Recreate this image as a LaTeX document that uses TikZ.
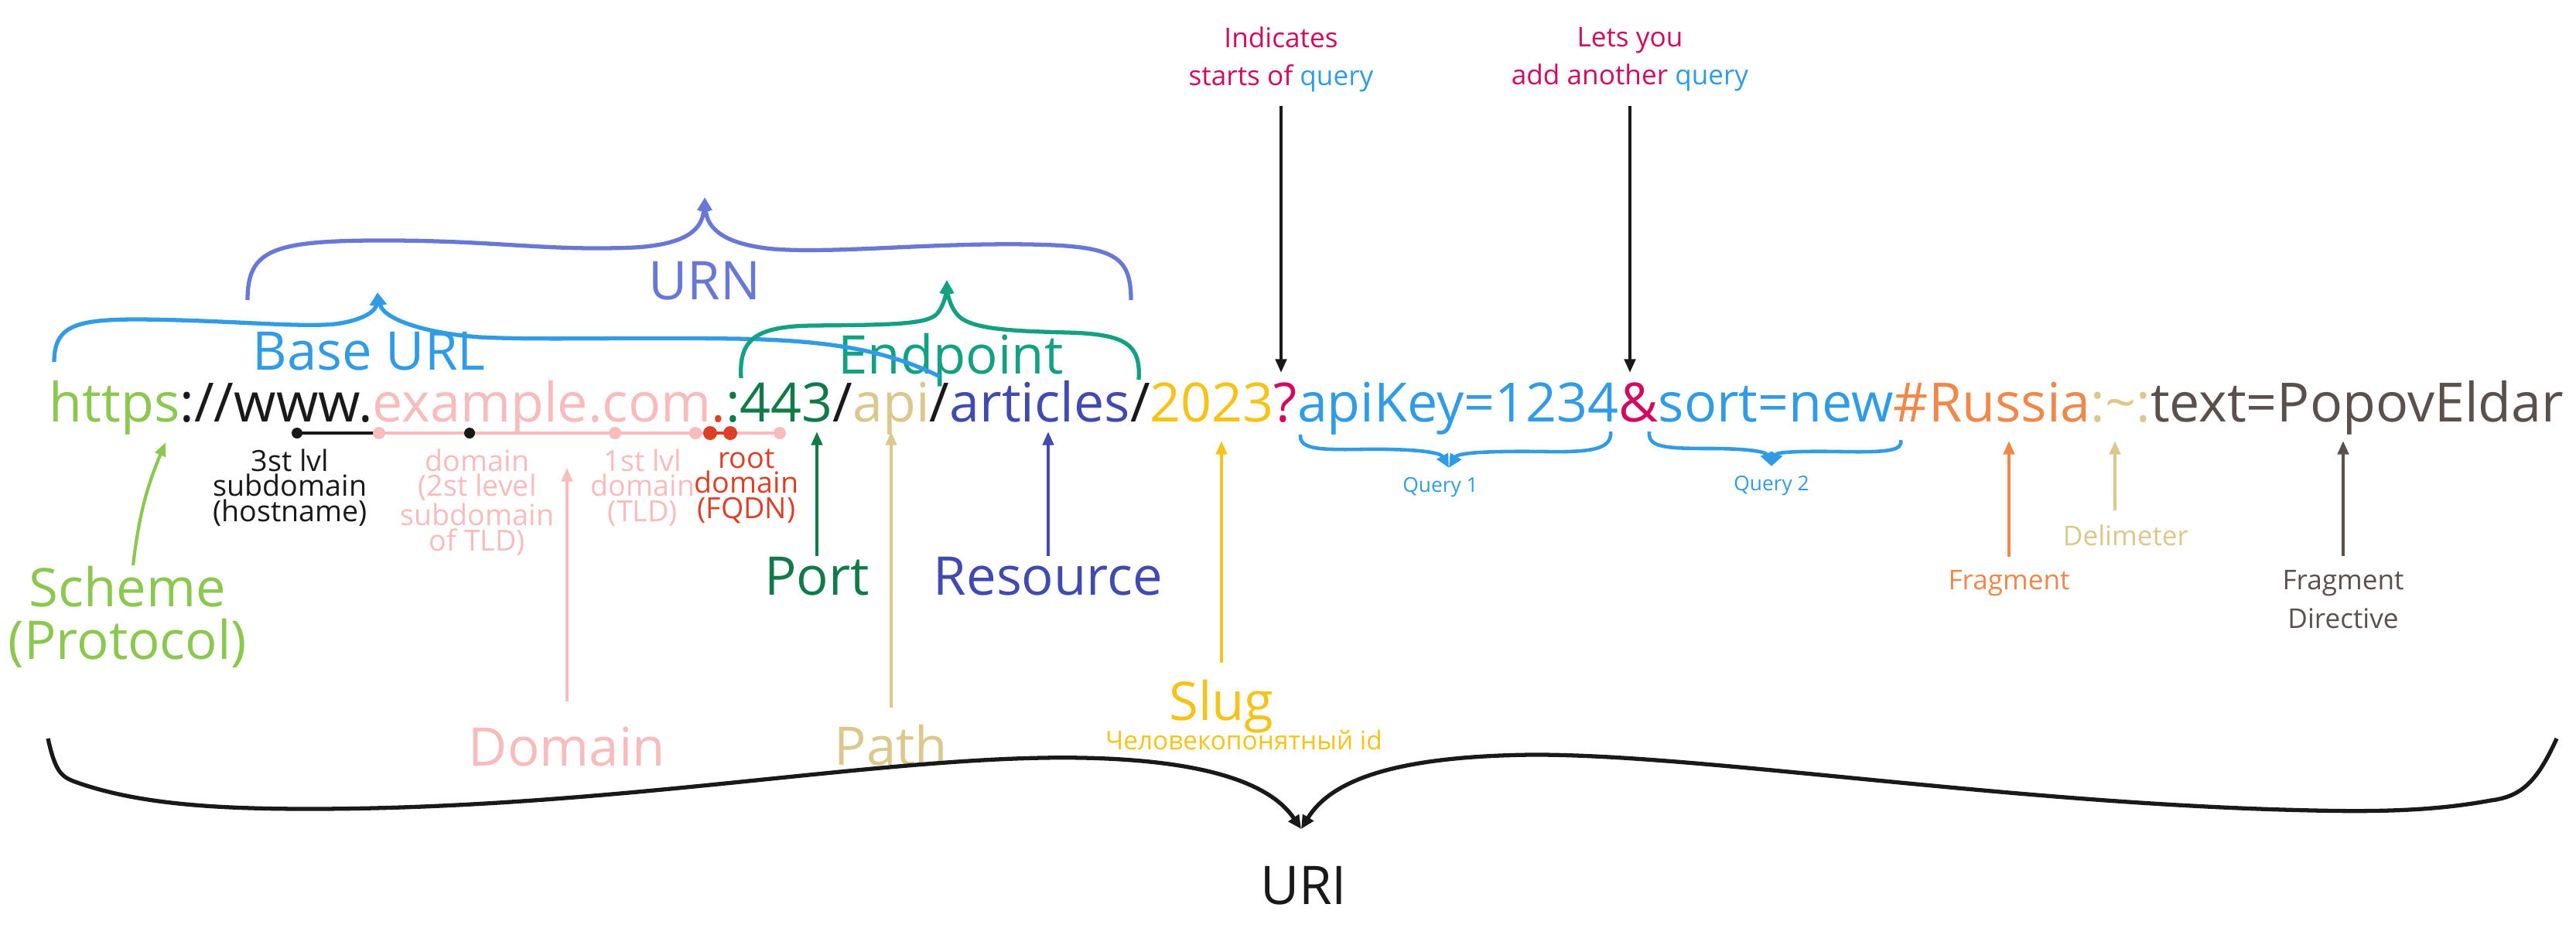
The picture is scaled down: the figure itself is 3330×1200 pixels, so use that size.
\documentclass[tikz,border=0pt]{standalone}
\usepackage{fontspec}
\setmainfont{Open Sans}
\usetikzlibrary{arrows.meta}

\definecolor{ink}{RGB}{25,25,25}
\definecolor{schemec}{RGB}{140,200,80}
\definecolor{domainc}{RGB}{248,188,188}
\definecolor{rootc}{RGB}{220,65,40}
\definecolor{portc}{RGB}{18,122,72}
\definecolor{pathc}{RGB}{220,200,140}
\definecolor{resc}{RGB}{65,75,175}
\definecolor{slugc}{RGB}{245,195,25}
\definecolor{markc}{RGB}{210,10,95}
\definecolor{queryc}{RGB}{50,155,230}
\definecolor{fragc}{RGB}{240,135,75}
\definecolor{dirc}{RGB}{90,80,78}
\definecolor{urnc}{RGB}{105,120,215}
\definecolor{endc}{RGB}{20,160,130}

\begin{document}
\begin{tikzpicture}[x=0.01cm,y=-0.01cm,
    seg/.style={anchor=base west,inner sep=0pt,outer sep=0pt,font=\fontsize{19.9}{22}\selectfont},
    big/.style={inner sep=0pt,align=center,font=\fontsize{19.6}{19.5}\selectfont},
    small/.style={inner sep=0pt,align=center,font=\fontsize{10}{14}\selectfont},
    tiny/.style={inner sep=0pt,align=center,font=\fontsize{10.7}{9.2}\selectfont},
    arr/.style={line width=1.2pt,-{Triangle[length=5pt,width=4pt]}},
    brace/.style={line width=1.5pt,-{Triangle[length=5pt,width=4.5pt]}}]
        \fill[white] (0,0) rectangle (3330,1200);
        \useasboundingbox (0,0) rectangle (3330,1200);

        % the address itself
        \node[seg,schemec] (scheme) at (64,545) {https};
        \node[seg,ink] (www) at (scheme.base east) {://www.};
        \node[seg,domainc] (domain) at (www.base east) {example.com};
        \node[seg,rootc] (root) at (domain.base east) {.};
        \node[seg,portc] (port) at (root.base east) {:443};
        \node[seg,ink] (sl1) at (port.base east) {/};
        \node[seg,pathc] (path) at (sl1.base east) {api};
        \node[seg,ink] (sl2) at (path.base east) {/};
        \node[seg,resc] (res) at (sl2.base east) {articles};
        \node[seg,ink] (sl3) at (res.base east) {/};
        \node[seg,slugc] (slug) at (sl3.base east) {2023};
        \node[seg,markc] (qmark) at (slug.base east) {?};
        \node[seg,queryc] (query1) at (qmark.base east) {apiKey=1234};
        \node[seg,markc] (amp) at (query1.base east) {\&};
        \node[seg,queryc] (query2) at (amp.base east) {sort=new};
        \node[seg,fragc] (frag) at (query2.base east) {\#Russia};
        \node[seg,pathc] (delim) at (frag.base east) {:\textasciitilde:};
        \node[seg,dirc] (dir) at (delim.base east) {text=PopovEldar};

        % domain levels
        \draw[ink,line width=1.4pt] (384,560) -- (490,560);
        \draw[domainc,line width=1.4pt] (490,560) -- (1008,560);
        \draw[rootc,line width=1.4pt] (918,560) -- (944,560);
        \foreach \x in {490,795,899,1008} \fill[domainc] (\x,560) circle (8);
        \foreach \x in {384,607} \fill[ink] (\x,560) circle (7);
        \foreach \x in {918,944} \fill[rootc] (\x,560) circle (9);
        \node[tiny,ink,anchor=north] (host) at (375,580) {3st lvl\\subdomain\\(hostname)};
        \node[tiny,domainc,anchor=north] (sld) at (617,580) {domain\\(2st level\\subdomain\\of TLD)};
        \node[tiny,domainc,anchor=north] (tld) at (831,580) {1st lvl\\domain\\(TLD)};
        \node[tiny,rootc,anchor=north] (fqdn) at (965,580) {root\\domain\\(FQDN)};

        % labels
        \node[small,markc] (indicates) at (1656,77) {Indicates\\starts of \textcolor{queryc}{query}};
        \node[small,markc] (letsyou) at (2107,77) {Lets you\\add another \textcolor{queryc}{query}};
        \node[big,urnc,anchor=base] (urn) at (911,387) {URN};
        \node[big,queryc,anchor=base] (baseurl) at (477,478) {Base URL};
        \node[big,endc,anchor=base] (endpoint) at (1229,483) {Endpoint};
        \node[big,schemec,anchor=north] (schemelbl) at (165,731) {Scheme\\(Protocol)};
        \node[big,portc,anchor=base] (portlbl) at (1056,769) {Port};
        \node[big,resc,anchor=base] (reslbl) at (1355,769) {Resource};
        \node[big,domainc,anchor=base] (domainlbl) at (733,990) {Domain};
        \node[big,pathc,anchor=base] (pathlbl) at (1152,989) {Path};
        \node[big,slugc,anchor=base] (sluglbl) at (1579,931) {Slug};
        \node[inner sep=0pt,slugc,anchor=base,font=\fontsize{9.5}{10}\selectfont] (slugsub) at (1608,969) {Человекопонятный id};
        \node[big,ink,anchor=base] (uri) at (1685,1169) {URI};
        \node[inner sep=0pt,queryc,anchor=base,font=\fontsize{7.5}{8}\selectfont] (q1lbl) at (1862,636) {Query 1};
        \node[inner sep=0pt,queryc,anchor=base,font=\fontsize{7.5}{8}\selectfont] (q2lbl) at (2290,634) {Query 2};
        \node[small,fragc,anchor=base] (fraglbl) at (2597,762) {Fragment};
        \node[small,pathc,anchor=base] (delimlbl) at (2748,705) {Delimeter};
        \node[small,dirc,anchor=north] (dirlbl) at (3029,737) {Fragment\\Directive};

        % arrow ends
        \coordinate (qtip) at (0,482);
        \coordinate (tipa) at (0,558);
        \coordinate (tipb) at (0,570);
        \coordinate (tipdom) at (0,605);
        \coordinate (schemetip) at (214,572);

        \draw[arr,ink,shorten <=5pt] (indicates) -- (indicates.south |- qtip);
        \draw[arr,ink,shorten <=5pt] (letsyou) -- (letsyou.south |- qtip);
        \draw[arr,schemec] ([xshift=2pt]schemelbl.north) to[bend left=8] (schemetip);
        \draw[arr,domainc,shorten <=9pt] (domainlbl) -- (domainlbl.north |- tipdom);
        \draw[arr,portc] (portlbl) -- (portlbl.north |- tipa);
        \draw[arr,pathc,shorten <=6pt] (pathlbl) -- (pathlbl.north |- tipa);
        \draw[arr,resc] (reslbl) -- (reslbl.north |- tipa);
        \draw[arr,slugc,shorten <=6pt] (sluglbl) -- (sluglbl.north |- tipb);
        \draw[arr,fragc,shorten <=4.5pt] (fraglbl) -- (fraglbl.north |- tipb);
        \draw[arr,pathc,shorten <=5pt] ([xshift=-4pt]delimlbl.north) -- ([xshift=-4pt]delimlbl.north |- tipb);
        \draw[arr,dirc,shorten <=5pt] (dirlbl) -- (dirlbl.north |- tipb);

        % braces
        \draw[brace,urnc] (320,388) .. controls (320,325) and (350,312) .. (480,311) .. controls (640,310) and (700,325) .. (820,320) .. controls (890,316) and (908,295) .. (911,255);
        \draw[brace,urnc] (1462,388) .. controls (1462,330) and (1440,318) .. (1330,316) .. controls (1200,314) and (1080,328) .. (1000,322) .. controls (935,316) and (914,295) .. (911,255);
        \draw[brace,queryc] (70,468) .. controls (70,420) and (100,413) .. (180,413) .. controls (300,414) and (400,425) .. (440,418) .. controls (475,412) and (486,400) .. (488,378);
        \draw[brace,queryc] (1215,487) .. controls (1150,455) and (1080,440) .. (950,438) .. controls (800,436) and (700,440) .. (620,436) .. controls (540,430) and (495,410) .. (488,378);
        \draw[brace,endc] (958,489) .. controls (955,440) and (975,422) .. (1050,421) .. controls (1150,420) and (1200,420) .. (1212,405) .. controls (1220,395) and (1223,380) .. (1224,362);
        \draw[brace,endc] (1472,491) .. controls (1475,445) and (1455,432) .. (1380,430) .. controls (1300,428) and (1250,425) .. (1236,405) .. controls (1228,395) and (1225,380) .. (1224,362);
        \draw[brace,queryc,line width=1.3pt] (1681,562) .. controls (1680,580) and (1700,582) .. (1760,581) .. controls (1830,580) and (1862,585) .. (1873,605);
        \draw[brace,queryc,line width=1.3pt] (2082,558) .. controls (2084,580) and (2060,585) .. (2000,584) .. controls (1930,583) and (1885,585) .. (1873,605);
        \draw[brace,queryc,line width=1.3pt] (2132,558) .. controls (2130,578) and (2150,580) .. (2210,580) .. controls (2265,580) and (2283,585) .. (2290,603);
        \draw[brace,queryc,line width=1.3pt] (2457,569) .. controls (2460,583) and (2440,585) .. (2380,584) .. controls (2320,583) and (2297,585) .. (2290,603);
        \draw[brace,ink] (62,955) .. controls (72,1000) and (80,1005) .. (100,1012) .. controls (180,1040) and (280,1046) .. (400,1046) .. controls (800,1046) and (1150,975) .. (1400,980) .. controls (1550,983) and (1640,1010) .. (1682,1072);
        \draw[brace,ink] (3305,955) .. controls (3280,1010) and (3260,1030) .. (3220,1035) .. controls (3150,1048) and (3080,1050) .. (2990,1048) .. controls (2600,1040) and (2200,975) .. (1980,976) .. controls (1800,978) and (1720,1010) .. (1682,1072);
    \end{tikzpicture}
\end{document}
